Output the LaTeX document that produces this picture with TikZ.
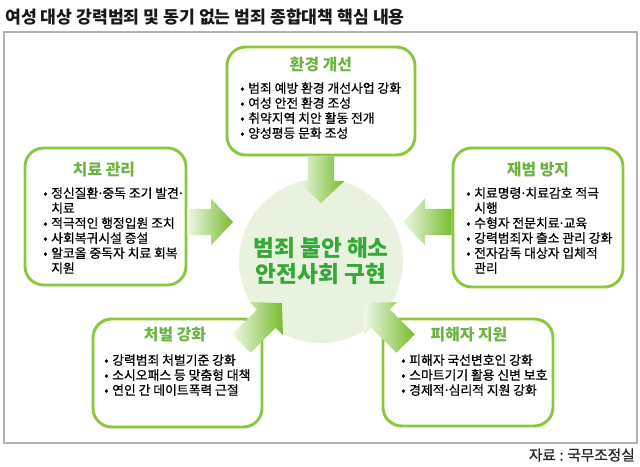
\documentclass[tikz,border=0pt]{standalone}
\usepackage{fontspec}
\setmainfont{Noto Sans CJK KR}
\newfontfamily\listfont{Noto Sans CJK KR}[FakeBold=0.7]
\usetikzlibrary{calc}

\definecolor{boxgreen}{HTML}{8CC63F}
\definecolor{headgreen}{HTML}{6DB33F}
\definecolor{goalgreen}{HTML}{36A838}
\definecolor{goalfill}{HTML}{E9F1DF}
\definecolor{arrowgreen}{HTML}{78BC2E}
\definecolor{framegray}{HTML}{B2B2B2}

\newcommand\itm{\makebox[6pt][l]{•}}
\newcommand\cont{\hspace*{6pt}}
\newcommand\md{\makebox[0.32em]{·}}
\newcommand\fatarrow[2]{% from, to
  \path let \p1=($(#2)-(#1)$), \n1={atan2(\y1,\x1)}, \n2={veclen(\x1,\y1)} in
    \pgfextra{\xdef\arrang{\n1}\xdef\arrlen{\n2}};
  \begin{scope}[shift={(#1)}, rotate=\arrang, x=1pt, y=1pt]
    \shade[fatarrow] (0,-9.75) -- (\arrlen-16.5,-9.75) -- (\arrlen-16.5,-17.6) -- (\arrlen,0)
      -- (\arrlen-16.5,17.6) -- (\arrlen-16.5,9.75) -- (0,9.75) -- cycle;
  \end{scope}}

\begin{document}
\begin{tikzpicture}[
    x=0.75pt, y=-0.75pt,
    frame/.style={draw=framegray, line width=1.1pt},
    box/.style={draw=boxgreen, line width=2.2pt, rounded corners=14pt, fill=white},
    boxhead/.style={font=\fontsize{11.9}{14}\selectfont\bfseries, text=headgreen, inner sep=0pt},
    boxlist/.style={font=\listfont\fontsize{9.6}{11.25}\selectfont, align=left, inner sep=0pt, anchor=north west, text=black},
    goal/.style={circle, fill=goalfill, minimum size=123pt, inner sep=0pt},
    goaltext/.style={font=\fontsize{17}{19.5}\selectfont\bfseries, text=goalgreen, align=center},
    fatarrow/.style={left color=arrowgreen!12!white, right color=arrowgreen},
]
    \useasboundingbox (0,0) rectangle (640,467);

    % heading and frame
    \node[anchor=west, inner sep=0pt, font=\fontsize{12.9}{15}\selectfont\bfseries, text=black!90] (heading) at (5,17)
        {여성 대상 강력범죄 및 동기 없는 범죄 종합대책 핵심 내용};
    \draw[frame] (4,32) rectangle (637,443);
    \node[anchor=east, inner sep=0pt, font=\listfont\fontsize{11}{12}\selectfont, text=black!85] (source) at (635,455)
        {자료\hspace{0.25em}:\hspace{0.25em}국무조정실};

    % boxes
    \node[box, minimum width=141pt, minimum height=81pt] (env) at (321,101) {};
    \node[box, minimum width=120.75pt, minimum height=102.75pt] (care) at (105.5,216.5) {};
    \node[box, minimum width=127.5pt, minimum height=104.25pt] (prev) at (538,217.5) {};
    \node[box, minimum width=126.75pt, minimum height=81pt] (punish) at (177.5,373) {};
    \node[box, minimum width=127.5pt, minimum height=80.25pt] (victim) at (468,372.5) {};

    % goal
    \node[goal] (goal) at (321,261) {};

    % arrows
    \coordinate (tipN) at ($(goal.center)+(0,-58)$);
    \coordinate (tipW) at ($(goal.center)+(-88,-39)$);
    \coordinate (tipE) at ($(goal.center)+(82,-39)$);
    \coordinate (tipSW) at ($(goal.center)+(-39,42)$);
    \coordinate (tipSE) at ($(goal.center)+(44,42)$);
    \fatarrow{env.south}{tipN}
    \fatarrow{care.east |- tipW}{tipW}
    \fatarrow{prev.west |- tipE}{tipE}
    \fatarrow{$(punish.north east)+(-22,26)$}{tipSW}
    \fatarrow{$(victim.north west)+(24,26)$}{tipSE}

    \node[goaltext] (goalt) at (goal.center) {범죄 불안 해소\\안전사회 구현};

    % box texts
    \node[boxhead] (envh) at (321,65) {환경 개선};
    \node[boxlist] (envl) at (240,82) {\itm 범죄 예방 환경 개선사업 강화\\\itm 여성 안전 환경 조성\\\itm 취약지역 치안 활동 전개\\\itm 양성평등 문화 조성};

    \node[boxhead] (careh) at (104,170) {치료 관리};
    \node[boxlist] (carel) at (43,187) {\itm 정신질환\md 중독 조기 발견\md\\\cont 치료\\\itm 적극적인 행정입원 조치\\\itm 사회복귀시설 증설\\\itm 알코올 중독자 치료 회복\\\cont 지원};

    \node[boxhead] (prevh) at (538,170) {재범 방지};
    \node[boxlist] (prevl) at (466,187) {\itm 치료명령\md 치료감호 적극\\\cont 시행\\\itm 수형자 전문치료\md 교육\\\itm 강력범죄자 출소 관리 강화\\\itm 전자감독 대상자 입체적\\\cont 관리};

    \node[boxhead] (punishh) at (175,335) {처벌 강화};
    \node[boxlist] (punishl) at (104,354) {\itm 강력범죄 처벌기준 강화\\\itm 소시오패스 등 맞춤형 대책\\\itm 연인 간 데이트폭력 근절};

    \node[boxhead] (victimh) at (469,335) {피해자 지원};
    \node[boxlist] (victiml) at (401,354) {\itm 피해자 국선변호인 강화\\\itm 스마트기기 활용 신변 보호\\\itm 경제적\md 심리적 지원 강화};
\end{tikzpicture}
\end{document}
